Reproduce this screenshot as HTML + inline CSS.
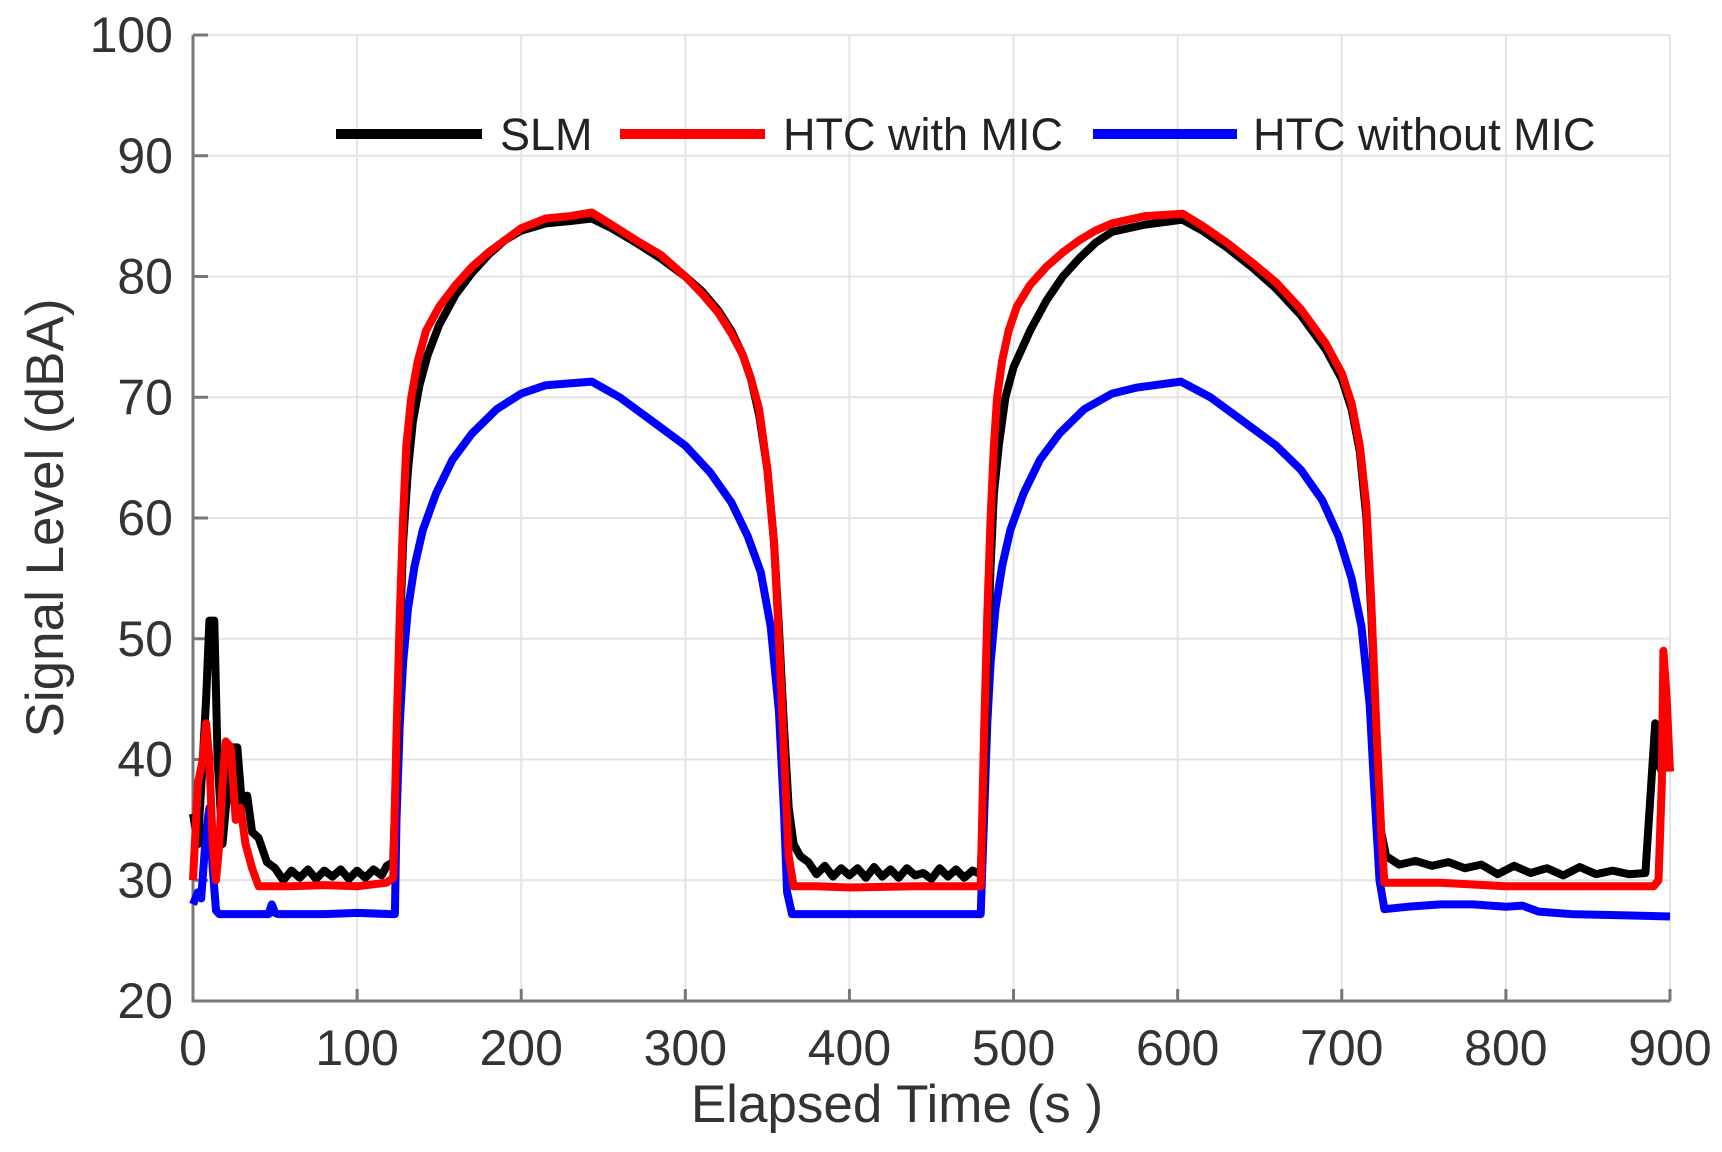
<!DOCTYPE html>
<html><head><meta charset="utf-8">
<style>
html,body{margin:0;padding:0;background:#fff;}
svg{display:block;font-family:"Liberation Sans",Arial,sans-serif;}
</style></head>
<body>
<svg id="chart" width="1722" height="1152" viewBox="0 0 1722 1152" xmlns="http://www.w3.org/2000/svg">
  <g id="grid"></g>
  <g id="axes"></g>
  <g id="series"></g>
  <g id="legend"></g>
  <text x="0" y="0" transform="translate(63,518) rotate(-90)" text-anchor="middle" font-size="53" fill="#333">Signal Level (dBA)</text>
  <text x="897" y="1122" text-anchor="middle" font-size="53" fill="#333">Elapsed Time (s )</text>
</svg>
<script>
const xTicks = [0,100,200,300,400,500,600,700,800,900];
const yTicks = [20,30,40,50,60,70,80,90,100];
const slmT = [0,3,6,8,10,13,15,18,20,22,24,27,30,33,36,40,45,50,55,60,65,70,75,80,85,90,95,100,105,110,115,118,122,124,126,128,131,134,138,143,150,160,170,180,190,200,215,230,243,255,270,285,300,310,320,328,335,340,345,350,354,357,360,363,366,370,375,380,385,390,395,400,405,410,415,420,425,430,435,440,445,450,455,460,465,470,475,480,482,484,486,488,491,495,500,510,520,530,540,550,560,580,603,615,630,645,660,675,690,700,706,711,715,718,721,724,727,735,745,755,765,775,785,795,805,815,825,835,845,855,865,875,885,891,892,895,900];
const slmV = [35.5,33,40,45,51.5,51.5,40,33,36,38,41,41,36,37,34,33.5,31.5,31,30,30.8,30.2,30.9,30.1,30.8,30.3,30.9,30.1,30.8,30.2,30.9,30.4,31.2,31.5,40,50,58,64,68,71,73.5,76,78.5,80.3,81.8,83,83.8,84.4,84.6,84.8,84,82.8,81.5,80,78.8,77.2,75.5,73.5,71.5,68.5,64,58,51,43,36,33,32,31.5,30.5,31.2,30.3,31,30.4,31,30.2,31.1,30.3,30.9,30.2,31,30.4,30.6,30.1,31,30.3,30.9,30.2,30.8,30.5,38,48,56,62,66,70,72.5,75.5,78,80,81.5,82.8,83.7,84.3,84.7,83.8,82.4,80.8,79,76.8,74,71.5,69,65.5,60,52,42,34,32,31.3,31.6,31.2,31.5,31,31.3,30.5,31.2,30.6,31,30.4,31.1,30.5,30.8,30.5,30.6,43,40,39];
const htcMicT = [0,3,6,8,10,12,14,16,18,20,23,26,29,32,36,40,50,60,80,100,118,122,124,126,128,130,133,137,142,150,160,170,180,190,200,215,230,243,255,270,285,300,310,320,328,335,340,345,350,354,357,360,363,366,380,400,440,480,482,484,486,488,490,493,497,502,510,520,530,540,550,560,580,603,615,630,645,660,675,690,700,706,711,715,718,721,724,726,740,760,800,850,890,893,895,896,898,900];
const htcMicV = [30,38,40,43,40,33,30,33,38,41.5,41,35,36,33,31,29.5,29.5,29.5,29.6,29.5,29.8,30.2,42,52,60,66,70,73,75.5,77.5,79.3,80.8,82,83,84,84.8,85,85.3,84.3,83,81.8,80,78.6,77,75.3,73.5,71.5,69,64,58,50,41,32,29.5,29.5,29.4,29.5,29.5,42,52,60,66,70,73,75.5,77.5,79.3,80.8,82,83,83.8,84.4,85,85.2,84.2,82.8,81.2,79.5,77.3,74.5,72,69.5,66,61,53,43,34,29.8,29.8,29.8,29.5,29.5,29.5,30,38,49,45,39];
const htcNoMicT = [0,3,5,8,10,12,14,16,20,30,46,48,50,52,60,80,100,120,123,124,126,128,131,135,140,148,158,170,185,200,215,243,260,280,300,315,328,338,346,352,357,360,362,365,380,420,480,482,484,486,489,493,498,506,516,528,543,560,575,602,620,640,660,675,688,698,706,712,717,720,723,726,740,760,780,800,810,820,840,870,900];
const htcNoMicV = [28,29,28.5,34,36,31,27.5,27.2,27.2,27.2,27.2,28,27.3,27.2,27.2,27.2,27.3,27.2,27.2,35,43,48,52.5,56,59,62,64.8,67,69,70.3,71,71.3,70,68,66,63.8,61.3,58.5,55.5,51,44,36,29,27.2,27.2,27.2,27.2,35,43,48,52.5,56,59,62,64.8,67,69,70.3,70.8,71.3,70,68,66,64,61.5,58.5,55,51,44.5,37,30,27.6,27.8,28,28,27.8,27.9,27.4,27.2,27.1,27.0];

const X0=193, X1=1670, Y0=1001, Y1=35;
const xs = t => X0 + (t/900)*(X1-X0);
const ys = v => Y0 - ((v-20)/80)*(Y0-Y1);
const NS="http://www.w3.org/2000/svg";
function mk(tag, parent){ const e=document.createElementNS(NS,tag); parent.appendChild(e); return e; }

const grid=document.getElementById('grid'), axes=document.getElementById('axes');
xTicks.forEach(t=>{
  const l=mk('line',grid);
  
  
  l.setAttribute('x1',xs(t));l.setAttribute('x2',xs(t));l.setAttribute('y1',Y1);l.setAttribute('y2',Y0);
  l.setAttribute('stroke','#e4e4e4');l.setAttribute('stroke-width','2');
  const tk=mk('line',axes);
  
  
  tk.setAttribute('x1',xs(t));tk.setAttribute('x2',xs(t));tk.setAttribute('y1',Y0);tk.setAttribute('y2',Y0-12);
  tk.setAttribute('stroke','#777');tk.setAttribute('stroke-width','3');
  const tx=mk('text',axes);
  
  
  tx.setAttribute('x',xs(t));tx.setAttribute('y',Y0+64);tx.setAttribute('text-anchor','middle');
  tx.setAttribute('font-size','50');tx.setAttribute('fill','#333');tx.textContent=t;
});
yTicks.forEach(v=>{
  const l=mk('line',grid);
  
  
  l.setAttribute('x1',X0);l.setAttribute('x2',X1);l.setAttribute('y1',ys(v));l.setAttribute('y2',ys(v));
  l.setAttribute('stroke','#e4e4e4');l.setAttribute('stroke-width','2');
  const tk=mk('line',axes);
  
  
  tk.setAttribute('x1',X0);tk.setAttribute('x2',X0+15);tk.setAttribute('y1',ys(v));tk.setAttribute('y2',ys(v));
  tk.setAttribute('stroke','#777');tk.setAttribute('stroke-width','3');
  const tx=mk('text',axes);
  
  
  tx.setAttribute('x',X0-20);tx.setAttribute('y',ys(v)+17);tx.setAttribute('text-anchor','end');
  tx.setAttribute('font-size','50');tx.setAttribute('fill','#333');tx.textContent=v;
});
const ax=mk('path',axes);


ax.setAttribute('d',`M${X0},${Y1}V${Y0}H${X1}`);
ax.setAttribute('fill','none');ax.setAttribute('stroke','#777');ax.setAttribute('stroke-width','3');

const seriesG=document.getElementById('series');
function drawLine(T,V,color,w,name){
  const p=mk('polyline',seriesG);
  
  
  p.setAttribute('points',T.map((t,i)=>xs(t).toFixed(1)+','+ys(V[i]).toFixed(1)).join(' '));
  p.setAttribute('fill','none');p.setAttribute('stroke',color);p.setAttribute('stroke-width',w);
  p.setAttribute('stroke-linejoin','round');
}
drawLine(htcNoMicT,htcNoMicV,'#0000ff',8,'htc-without-mic-line');
drawLine(slmT,slmV,'#000',8,'slm-line');
drawLine(htcMicT,htcMicV,'#ff0000',8,'htc-with-mic-line');

const legend=document.getElementById('legend');
const legItems=[['SLM','#000',336,482,500,'legend-entry-slm'],['HTC with MIC','#ff0000',620,765,783,'legend-entry-htc-with-mic'],['HTC without MIC','#0000ff',1093,1237,1253,'legend-entry-htc-without-mic']];
legItems.forEach(it=>{
  const g=mk('g',legend);
  
  
  const l=mk('line',g);
  
  
  l.setAttribute('x1',it[2]);l.setAttribute('x2',it[3]);l.setAttribute('y1',134);l.setAttribute('y2',134);
  l.setAttribute('stroke',it[1]);l.setAttribute('stroke-width','10');
  const t=mk('text',g);
  
  
  t.setAttribute('x',it[4]);t.setAttribute('y',150);t.setAttribute('font-size','45');t.setAttribute('fill','#222');
  t.textContent=it[0];
});
</script>
</body></html>
